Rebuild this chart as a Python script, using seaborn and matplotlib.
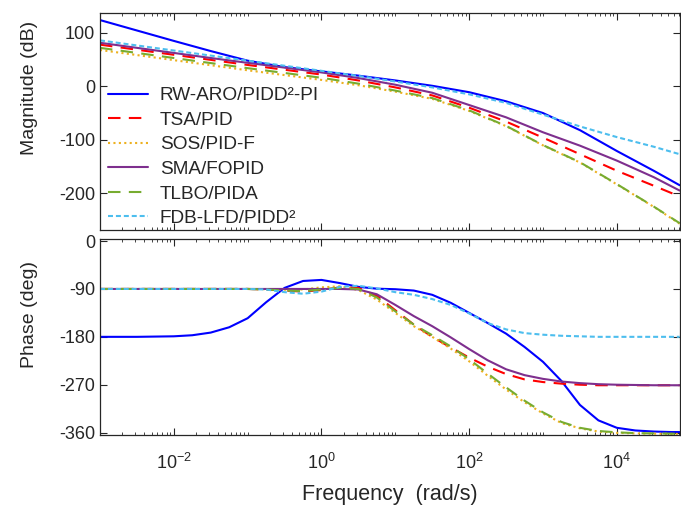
import numpy as np
import pandas as pd
import matplotlib
matplotlib.use("Agg")
import matplotlib.pyplot as plt
import seaborn as sns
from matplotlib.ticker import FixedLocator, LogLocator, NullFormatter, LogFormatterSciNotation

# Frequency grid, as powers of ten (rad/s)
mag_exp = [-3, -2.5, -2, -1.5, -1, -0.5, 0, 0.5, 1, 1.5, 2, 2.5, 3, 3.5, 4, 4.5, 4.85]
phase_exp = [-3, -2.75, -2.5, -2.25, -2, -1.75, -1.5, -1.25, -1, -0.75, -0.5, -0.25,
             0, 0.25, 0.5, 0.75, 1, 1.25, 1.5, 1.75, 2, 2.25, 2.5, 2.75,
             3, 3.25, 3.5, 3.75, 4, 4.25, 4.5, 4.75, 4.85]

controllers = ["RW-ARO/PIDD²-PI", "TSA/PID", "SOS/PID-F",
               "SMA/FOPID", "TLBO/PIDA", "FDB-LFD/PIDD²"]

# Magnitude (dB) on mag_exp
mag_rwaro = [124, 104.5, 85, 66, 48, 36, 28, 20, 11, 1, -11, -28, -50, -82, -121, -158, -185]
mag_tsa   = [78, 68.5, 59, 49.5, 40, 31, 22, 11, -2, -17, -40, -66, -96, -127, -158, -186, -206]
mag_sos   = [68, 58.5, 49, 39.5, 30, 21, 12, 2, -10, -23.5, -46, -74.5, -110.5, -142.5, -183.5, -225.5, -257]
mag_sma   = [81.5, 72, 62.5, 53, 44, 35, 26, 15.5, 3, -12, -35, -58, -86, -111, -139, -170, -195]
mag_tlbo  = [72, 62.5, 53, 43.5, 34, 25, 16, 5, -8, -22, -45, -74, -110, -142, -183, -225, -256]
mag_fdb   = [86, 76.5, 67, 57.5, 48, 38.5, 29, 19.5, 9, -2, -15, -31, -53, -75, -95, -113, -127]

# Phase (deg) on phase_exp
ph_rwaro = [-180, -180, -180, -179.5, -179, -177, -172, -162, -145, -115, -88, -75,
            -73, -79, -86, -89.5, -90.5, -93, -101, -116, -135, -154, -174, -199,
            -227, -263, -308, -337, -351, -356, -358, -359, -359]
ph_tsa = [-90, -90, -90, -90, -90, -90, -90, -90, -90, -91, -93, -95,
          -92, -87, -88, -103, -130, -157, -180, -200, -219, -236, -250, -260,
          -265, -268, -270, -271, -271, -271, -271, -271, -271]
ph_sos = [-90, -90, -90, -90, -90, -90, -90, -90, -90, -90.5, -91.5, -91,
          -87, -85, -92, -110, -135, -160, -180, -202, -226, -253, -279, -303,
          -324, -342, -352, -358, -360.5, -361.5, -362, -362.5, -362.5]
ph_sma = [-90, -90, -90, -90, -90, -90, -90, -90, -90, -90, -90, -90,
          -90, -90, -91, -100, -120, -141, -160, -181, -203, -224, -241, -252,
          -259, -264, -267, -269, -270, -270.5, -271, -271, -271]
ph_tlbo = [-90, -90, -90, -90, -90, -90, -90, -90, -90, -91, -93, -94,
           -91, -88, -90, -106, -132, -157, -177, -198, -222, -249, -275, -300,
           -322, -340, -351, -357, -359.5, -361, -361.5, -362, -362]
ph_fdb = [-90, -90, -90, -90, -90, -90, -90, -90, -90, -91, -96, -99,
          -95, -86, -84, -89, -96, -101, -109, -120, -136, -154, -166, -173,
          -176, -178, -179, -180, -180, -180, -180, -180, -180]

mag_values = [mag_rwaro, mag_tsa, mag_sos, mag_sma, mag_tlbo, mag_fdb]
phase_values = [ph_rwaro, ph_tsa, ph_sos, ph_sma, ph_tlbo, ph_fdb]

palette = dict(zip(controllers, ["#0000FF", "#FF0000", "#EDB120",
                                 "#7E2F8E", "#77AC30", "#4DBEEE"]))
dash_map = dict(zip(controllers, ["", (6, 4), (1, 1.6), "", (6, 4), (2.4, 1.4)]))

mag_df = pd.concat([pd.DataFrame({"freq": np.power(10.0, mag_exp), "value": v, "controller": c})
                    for c, v in zip(controllers, mag_values)], ignore_index=True)
ph_df = pd.concat([pd.DataFrame({"freq": np.power(10.0, phase_exp), "value": v, "controller": c})
                   for c, v in zip(controllers, phase_values)], ignore_index=True)

sns.set_style("ticks")
ink = "#262626"
plt.rcParams.update({
    "font.family": ["Liberation Sans", "DejaVu Sans"],
    "mathtext.fontset": "custom",
    "mathtext.rm": "Liberation Sans",
    "mathtext.it": "Liberation Sans:italic",
    "mathtext.bf": "Liberation Sans:bold",
    "axes.unicode_minus": False,
    "axes.edgecolor": ink,
    "axes.linewidth": 0.9,
    "text.color": ink,
    "axes.labelcolor": ink,
    "xtick.color": ink,
    "ytick.color": ink,
})

fig = plt.figure(figsize=(6.81, 5.09), dpi=100)
ax_mag = fig.add_axes([0.1468, 0.549, 0.8517, 0.4263])
ax_ph = fig.add_axes([0.1468, 0.1454, 0.8517, 0.3841])

for ax, df in ((ax_mag, mag_df), (ax_ph, ph_df)):
    sns.lineplot(data=df, x="freq", y="value", hue="controller", style="controller",
                 hue_order=controllers, style_order=controllers,
                 palette=palette, dashes=dash_map, estimator=None, sort=False,
                 linewidth=1.5, ax=ax, legend=(ax is ax_mag))
    ax.set_xscale("log")
    ax.set_xlim(1e-3, 10 ** 4.855)
    ax.xaxis.set_major_locator(FixedLocator([1e-2, 1e0, 1e2, 1e4]))
    ax.xaxis.set_minor_locator(LogLocator(base=10, subs=np.arange(1, 10), numticks=30))
    ax.xaxis.set_minor_formatter(NullFormatter())
    ax.tick_params(which="both", direction="in", top=True, right=True, labelsize=13)
    ax.tick_params(which="major", length=5, width=0.8)
    ax.tick_params(which="minor", length=2.5, width=0.6)
    for s in ax.spines.values():
        s.set_visible(True)

ax_mag.set_ylim(-268, 138)
ax_mag.set_yticks([100, 0, -100, -200])
ax_mag.set_xticklabels([])
ax_mag.set_xlabel("")
ax_mag.set_ylabel("Magnitude (dB)", fontsize=14)

ax_ph.set_ylim(-364.5, 3)
ax_ph.set_yticks([0, -90, -180, -270, -360])
ax_ph.xaxis.set_major_formatter(LogFormatterSciNotation())
ax_ph.tick_params(axis="x", which="major", pad=13)
ax_ph.set_xlabel("Frequency  (rad/s)", fontsize=15.5, labelpad=8)
ax_ph.set_ylabel("Phase (deg)", fontsize=14)

ax_mag.yaxis.set_label_coords(-0.107, 0.652)
ax_ph.yaxis.set_label_coords(-0.107, 0.614)

handles, labels = ax_mag.get_legend_handles_labels()
ax_mag.legend(handles, labels, loc="upper left", bbox_to_anchor=(0.0138, 0.657),
              frameon=False, borderaxespad=0, borderpad=0, fontsize=13.7,
              handlelength=2.1, handletextpad=0.62, labelspacing=0.38)

fig.savefig("out.png", dpi=100)
